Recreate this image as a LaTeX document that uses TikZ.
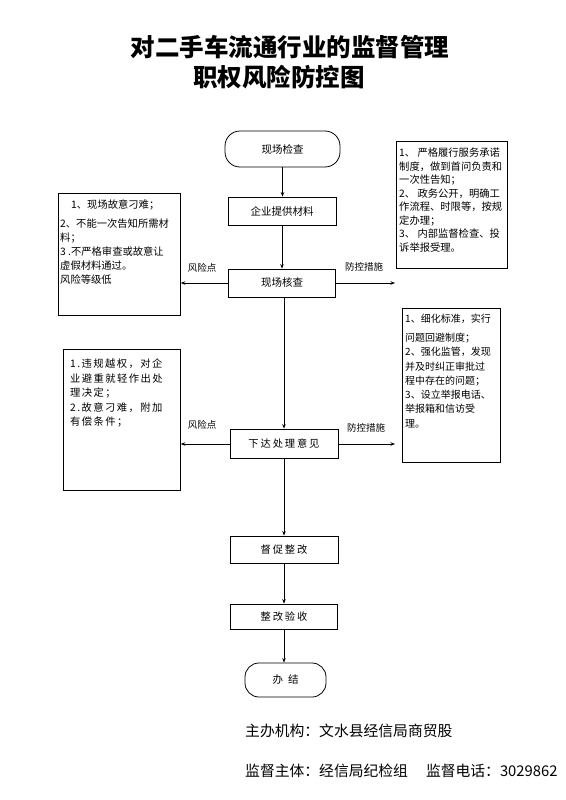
\documentclass[tikz,border=0pt]{standalone}
\usepackage{fontspec}
\setmainfont{Noto Sans CJK SC}
\usetikzlibrary{arrows.meta}
\begin{document}
\begin{tikzpicture}[x=1pt,y=-1pt,
  every node/.style={inner sep=0pt},
  procbox/.style={draw, line width=0.8pt, font=\fontsize{10.5}{12}\selectfont},
  spacedbox/.style={procbox, font=\fontsize{10.3}{12}\selectfont\addfontfeatures{LetterSpace=18}},
  termbox/.style={procbox, rounded corners=15pt},
  notebox/.style={draw, line width=0.8pt, anchor=north west},
  notetext/.style={anchor=north west, align=left, font=\fontsize{10.3}{14}\selectfont},
  sidelabel/.style={font=\fontsize{9.5}{11}\selectfont},
  conn/.style={-{Stealth[length=4.5pt,width=3.5pt]}, line width=0.7pt}]
\useasboundingbox (0,0) rectangle (565,800);

% title
\node[font=\fontsize{24.5}{28}\selectfont\bfseries] (t1) at (290,47) {对二手车流通行业的监督管理};
\node[font=\fontsize{24.5}{28}\selectfont\bfseries] (t2) at (279,77.5) {职权风险防控图};

% main flow
\node[termbox, minimum width=115pt, minimum height=36pt] (start) at (282.5,149) {现场检查};
\node[procbox, minimum width=108pt, minimum height=28pt] (s2) at (282,211) {企业提供材料};
\node[procbox, minimum width=107pt, minimum height=28pt] (s3) at (282,283) {现场核查};
\node[spacedbox, minimum width=108pt, minimum height=29pt] (s4) at (284,443.5) {下达处理意见};
\node[spacedbox, minimum width=108pt, minimum height=27pt] (s5) at (284,549.5) {督促整改};
\node[spacedbox, minimum width=107pt, minimum height=25pt] (s6) at (284,616.5) {整改验收};
\node[termbox, minimum width=81pt, minimum height=34pt, rounded corners=14pt] (fin) at (285.5,680) {办\hspace{5pt}结};

% note boxes
\node[notebox, minimum width=122pt, minimum height=122pt] (lb1) at (58,193) {};
\node[notetext] (lb1t) at (60,200) {\hspace{11pt}1、现场故意刁难；\\[5pt]2、不能一次告知所需材\\料；\\3 .不严格审查或故意让\\虚假材料通过。\\风险等级低};

\node[notebox, minimum width=111pt, minimum height=127pt] (rb1) at (396,141) {};
\node[notetext, font=\fontsize{10.3}{13.5}\selectfont] (rb1t) at (399,148) {1、 严格履行服务承诺\\制度，做到首问负责和\\一次性告知；\\2、 政务公开，明确工\\作流程、时限等，按规\\定办理；\\3、 内部监督检查、投\\诉举报受理。};

\node[notebox, minimum width=98pt, minimum height=154pt] (rb2) at (402,308) {};
\node[notetext, font=\fontsize{10}{14.3}\selectfont] (rb2t) at (405,314) {1、细化标准，实行\\[4.5pt]问题回避制度；\\2、强化监管，发现\\并及时纠正审批过\\程中存在的问题；\\3、设立举报电话、\\举报箱和信访受\\理。};

\node[notebox, minimum width=117pt, minimum height=141pt] (lb2) at (63,349) {};
\node[notetext, font=\fontsize{10.3}{14.5}\selectfont\addfontfeatures{LetterSpace=14}] (lb2t) at (70,359) {1.违规越权，对企\\业避重就轻作出处\\理决定；\\2.故意刁难，附加\\有偿条件；};

% vertical connectors
\draw[conn] (start.south) -- (start.south |- s2.north);
\draw[conn] (s2.south) -- (s2.south |- s3.north);
\draw[conn] (s3.south -| s4.north) -- (s4.north);
\draw[conn] (s4.south) -- (s4.south |- s5.north);
\draw[conn] (s5.south) -- (s5.south |- s6.north);
\draw[conn] (s6.south) -- (s6.south |- fin.north);

% side connectors
\coordinate (r1) at (395,283);
\coordinate (r2) at (395,444);
\draw[conn] (s3.west) -- (s3.west -| lb1.east);
\draw[conn] (s3.east) -- (r1);
\draw[conn] (s4.west |- 0,444) -- (lb2.east |- 0,444);
\draw[conn] (s4.east |- 0,444) -- (r2);

\node[sidelabel] (l1) at (202,268) {风险点};
\node[sidelabel] (l2) at (364,267) {防控措施};
\node[sidelabel] (l3) at (202,425) {风险点};
\node[sidelabel] (l4) at (366,428) {防控措施};

% footer
\node[anchor=west, font=\fontsize{14.8}{17}\selectfont] (f1) at (245,731) {主办机构：文水县经信局商贸股};
\node[anchor=west, font=\fontsize{14.8}{17}\selectfont] (f2) at (245,771) {监督主体：经信局纪检组\hspace{18pt}监督电话：3029862};
\end{tikzpicture}
\end{document}
